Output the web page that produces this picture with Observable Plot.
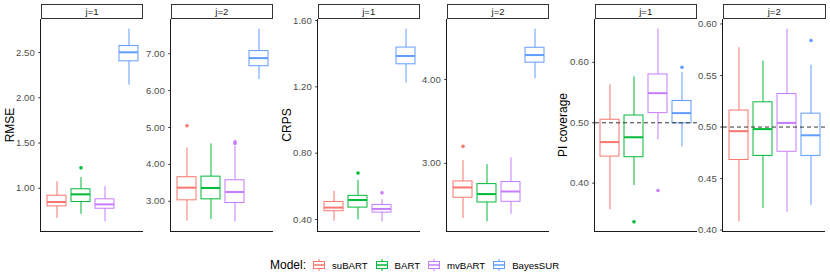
<!DOCTYPE html>
<html><head><meta charset="utf-8">
<script src="https://cdn.jsdelivr.net/npm/d3@7"></script>
<script src="https://cdn.jsdelivr.net/npm/@observablehq/plot@0.6"></script>
<style>
body{margin:0;background:#fff;}
#root{position:relative;width:830px;height:277px;overflow:hidden;background:#fff;font-family:"Liberation Sans",Arial,Helvetica,sans-serif;}
.strip{position:absolute;box-sizing:border-box;border:1.2px solid #333;background:#fff;font-size:9.6px;color:#1a1a1a;text-align:center;}
.axl{position:absolute;background:#1a1a1a;}
.ytitle{position:absolute;font-size:12px;color:#000;transform:translate(-50%,-50%) rotate(-90deg);white-space:nowrap;}
.pan{position:absolute;}
.pan g[aria-label="y-axis tick"]{stroke:#333;}
.pan g[aria-label="y-axis tick label"]{fill:#4d4d4d;}
#legend{position:absolute;left:270px;top:258px;display:flex;align-items:center;}
#legend .lt{font-size:12px;color:#000;margin-right:7px;}
#legend .ll{font-size:9.6px;color:#000;margin-right:8px;margin-left:7px;}
</style></head><body><div id="root"></div>
<script>
// ---- data ----
const models = ["suBART", "BART", "mvBART", "BayesSUR"];
const colors = ["#F8766D", "#00BA38", "#C77CFF", "#619CFF"];
const facets = ["j=1", "j=2"];
const metrics = ["RMSE", "CRPS", "PI coverage"];

// five-number summaries per model: [lower whisker, Q1, median, Q3, upper whisker]
const rmseJ1 = [[0.667, 0.800, 0.848, 0.918, 1.073], [0.711, 0.848, 0.933, 0.989, 1.118], [0.629, 0.774, 0.822, 0.878, 1.018], [2.140, 2.403, 2.503, 2.573, 2.759]];
const rmseJ2 = [[2.464, 3.027, 3.370, 3.653, 4.446], [2.510, 3.054, 3.362, 3.669, 4.555], [2.444, 2.954, 3.253, 3.571, 4.490], [6.300, 6.660, 6.880, 7.070, 7.665]];
const crpsJ1 = [[0.390, 0.450, 0.472, 0.506, 0.571], [0.398, 0.472, 0.518, 0.543, 0.637], [0.386, 0.442, 0.464, 0.488, 0.520], [1.223, 1.336, 1.386, 1.437, 1.548]];
const crpsJ2 = [[2.343, 2.590, 2.713, 2.785, 3.032], [2.303, 2.534, 2.634, 2.753, 2.984], [2.394, 2.542, 2.665, 2.777, 3.068], [4.008, 4.200, 4.291, 4.378, 4.600]];
const piJ1 = [[0.356, 0.444, 0.468, 0.505, 0.563], [0.396, 0.443, 0.476, 0.512, 0.576], [0.472, 0.516, 0.549, 0.580, 0.655], [0.460, 0.499, 0.516, 0.536, 0.583]];
const piJ2 = [[0.408, 0.468, 0.496, 0.516, 0.577], [0.421, 0.472, 0.498, 0.524, 0.564], [0.417, 0.476, 0.504, 0.532, 0.595], [0.424, 0.472, 0.492, 0.513, 0.560]];

// outliers: [model, value]
const rmseJ1Out = [["BART", 1.226]];
const rmseJ2Out = [["suBART", 5.046], ["mvBART", 4.565], ["mvBART", 4.610]];
const crpsJ1Out = [["BART", 0.680], ["mvBART", 0.561]];
const crpsJ2Out = [["suBART", 3.203]];
const piJ1Out = [["BART", 0.336], ["mvBART", 0.388], ["BayesSUR", 0.592]];
const piJ2Out = [["BayesSUR", 0.584]];

// tick labels
const rmseTicksJ1 = [1.0, 1.5, 2.0, 2.5];
const rmseTicksJ2 = [3, 4, 5, 6, 7];
const crpsTicksJ1 = [0.4, 0.8, 1.2, 1.6];
const crpsTicksJ2 = [3, 4];
const piTicksJ1 = [0.4, 0.5, 0.6];
const piTicksJ2 = [0.40, 0.45, 0.50, 0.55, 0.60];
const piTarget = 0.5;

// ---- layout ----
const root = document.getElementById("root");
const PT = 19.3, PB = 231.3, ST = 4;
const panelX = [[41, 143.3], [170.5, 273.3], [317.5, 420], [446.8, 549.3], [594.8, 696.7], [723, 825.5]];
const titleX = [9.5, 287, 562.5];

const panels = [
  [rmseJ1, rmseJ1Out, rmseTicksJ1, null],
  [rmseJ2, rmseJ2Out, rmseTicksJ2, null],
  [crpsJ1, crpsJ1Out, crpsTicksJ1, null],
  [crpsJ2, crpsJ2Out, crpsTicksJ2, null],
  [piJ1, piJ1Out, piTicksJ1, piTarget],
  [piJ2, piJ2Out, piTicksJ2, piTarget]
];

function el(tag, cls, style, text) {
  const e = document.createElement(tag);
  if (cls) e.className = cls;
  Object.assign(e.style, style);
  if (text != null) e.textContent = text;
  root.appendChild(e);
  return e;
}

panels.forEach(([stats, outs, ticks, ref], k) => {
  const [x0, x1] = panelX[k];
  const rows = models.map((m, i) => ({model: m, low: stats[i][0], q1: stats[i][1], med: stats[i][2], q3: stats[i][3], high: stats[i][4]}));
  const pts = outs.map(([m, v]) => ({model: m, value: v}));
  const all = rows.flatMap(r => [r.low, r.high]).concat(pts.map(p => p.value));
  const lo = d3.min(all), hi = d3.max(all), pad = (hi - lo) * 0.05;
  const ML = 40, MR = 3, MT = 12, MB = 12;
  const W = x1 - x0 + ML + MR, H = PB - PT + MT + MB;
  const plot = Plot.plot({
    width: W, height: H,
    marginLeft: ML, marginRight: MR, marginTop: MT, marginBottom: MB,
    style: {background: "transparent", fontFamily: '"Liberation Sans",Arial,sans-serif', fontSize: "9.6px", overflow: "visible"},
    x: {domain: models, padding: 0.2, axis: null},
    y: {domain: [lo - pad, hi + pad], ticks: ticks, tickFormat: d3.format(".2f"), tickSize: 2.75, tickPadding: 4, label: null},
    color: {domain: models, range: colors},
    marks: [
      Plot.ruleX(rows, {x: "model", y1: "low", y2: "q1", stroke: "model", strokeWidth: 1}),
      Plot.ruleX(rows, {x: "model", y1: "q3", y2: "high", stroke: "model", strokeWidth: 1}),
      Plot.barY(rows, {x: "model", y1: "q1", y2: "q3", fill: "white", stroke: "model", strokeWidth: 1}),
      Plot.tickY(rows, {x: "model", y: "med", stroke: "model", strokeWidth: 2}),
      Plot.dot(pts, {x: "model", y: "value", fill: "model", r: 1.8}),
      ref != null ? Plot.ruleY([ref], {stroke: "#333", strokeWidth: 1, strokeDasharray: "4,3"}) : null
    ]
  });
  plot.classList.add("pan");
  plot.style.left = (x0 - ML) + "px";
  plot.style.top = (PT - MT) + "px";
  root.appendChild(plot);
  // axis lines
  el("div", "axl", {left: (x0 - 0.6) + "px", top: PT + "px", width: "1.1px", height: (PB - PT + 0.5) + "px"});
  el("div", "axl", {left: (x0 - 0.6) + "px", top: (PB - 0.5) + "px", width: (x1 - x0 + 0.6) + "px", height: "1.1px"});
  // strip
  el("div", "strip", {left: x0 + "px", top: ST + "px", width: (x1 - x0) + "px", height: (PT - ST) + "px", lineHeight: (PT - ST - 2) + "px"}, facets[k % 2]);
});

metrics.forEach((m, g) => {
  el("div", "ytitle", {left: titleX[g] + "px", top: ((PT + PB) / 2) + "px"}, m);
});

// legend
const lg = el("div", null, {}, null);
lg.id = "legend";
const lt = document.createElement("span"); lt.className = "lt"; lt.textContent = "Model:"; lg.appendChild(lt);
models.forEach((m, i) => {
  const svg = d3.create("svg").attr("width", 12).attr("height", 12);
  svg.append("line").attr("x1", 6).attr("x2", 6).attr("y1", 0).attr("y2", 12).attr("stroke", colors[i]);
  svg.append("rect").attr("x", 0.5).attr("y", 2.5).attr("width", 11).attr("height", 7).attr("fill", "white").attr("stroke", colors[i]);
  svg.append("line").attr("x1", 0.5).attr("x2", 11.5).attr("y1", 6).attr("y2", 6).attr("stroke", colors[i]).attr("stroke-width", 1.5);
  lg.appendChild(svg.node());
  const s = document.createElement("span"); s.className = "ll"; s.textContent = m; lg.appendChild(s);
});
</script></body></html>
